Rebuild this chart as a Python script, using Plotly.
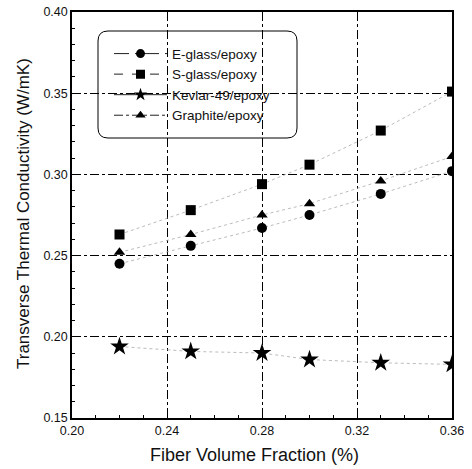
import plotly.graph_objects as go

fiber_fraction = [0.22, 0.25, 0.28, 0.30, 0.33, 0.36]
e_glass = [0.245, 0.256, 0.267, 0.275, 0.288, 0.302]
s_glass = [0.263, 0.278, 0.294, 0.306, 0.327, 0.351]
kevlar = [0.194, 0.191, 0.190, 0.186, 0.184, 0.183]
graphite = [0.252, 0.263, 0.275, 0.282, 0.296, 0.311]

series = [
    ("E-glass/epoxy", e_glass, "circle", "longdashdot", 10, 9),
    ("S-glass/epoxy", s_glass, "square", "dash", 10, 9),
    ("Kevlar-49/epoxy", kevlar, "star", "solid", 14, 10),
    ("Graphite/epoxy", graphite, "triangle-up", "dashdot", 10, 9),
]

FONT = "Liberation Sans, Arial, sans-serif"
W, H = 472, 469
ML, MR, MT, MB = 72, 20, 12, 51
PW, PH = W - ML - MR, H - MT - MB

fig = go.Figure()
for name, vals, sym, dash, size, lsize in series:
    fig.add_trace(go.Scatter(
        x=fiber_fraction, y=vals, name=name, mode="lines+markers", showlegend=False,
        line=dict(color="#aaa", width=0.8, dash="dot"),
        marker=dict(symbol=sym, size=size, color="black"),
    ))
for name, vals, sym, dash, size, lsize in series:
    fig.add_trace(go.Scatter(
        x=[None], y=[None], name=name, mode="lines+markers",
        line=dict(color="#222", width=1, dash=dash),
        marker=dict(symbol=sym, size=lsize, color="black"),
    ))

px = lambda v: (v - ML) / PW
py = lambda v: (H - MB - v) / PH

# rounded legend frame
L, R, T, B = 98, 297, 31, 138
rx, ry = 10 / PW, 10 / PH
x0, x1, y0, y1 = px(L), px(R), py(B), py(T)
path = (f"M {x0+rx},{y1} L {x1-rx},{y1} Q {x1},{y1} {x1},{y1-ry} "
        f"L {x1},{y0+ry} Q {x1},{y0} {x1-rx},{y0} L {x0+rx},{y0} "
        f"Q {x0},{y0} {x0},{y0+ry} L {x0},{y1-ry} Q {x0},{y1} {x0+rx},{y1} Z")
fig.add_shape(type="path", path=path, xref="paper", yref="paper",
              line=dict(color="black", width=1), fillcolor="white", layer="between")

axis_common = dict(
    showline=True, linecolor="black", linewidth=1.5, mirror=True,
    ticks="inside", ticklen=5, tickcolor="black",
    showgrid=True, gridcolor="black", gridwidth=1, griddash="dashdot",
    zeroline=False, automargin=False, ticklabeloverflow="allow",
    tickfont=dict(family=FONT, size=12.5, color="#111"),
    minor=dict(ticks="inside", ticklen=3, tickcolor="black", showgrid=False),
)

fig.update_layout(
    width=W, height=H,
    margin=dict(l=ML, r=MR, t=MT, b=MB),
    plot_bgcolor="white", paper_bgcolor="white",
    font=dict(family=FONT, color="#111"),
    xaxis=dict(range=[0.20, 0.36], dtick=0.04, tickformat=".2f", **axis_common),
    yaxis=dict(range=[0.15, 0.40], dtick=0.05, tickformat=".2f", **axis_common),
    legend=dict(x=px(L) + 11 / PW, y=py(T) - 0.018, xanchor="left", yanchor="top",
                bgcolor="rgba(0,0,0,0)", borderwidth=0, itemwidth=53,
                font=dict(family=FONT, size=13.5, color="#111"), tracegroupgap=0),
    showlegend=True,
    annotations=[
        dict(text="Fiber Volume Fraction (%)", xref="paper", yref="paper",
             x=px(254), y=py(455), showarrow=False, xanchor="center", yanchor="middle",
             font=dict(family=FONT, size=18, color="#111")),
        dict(text="Transverse Thermal Conductivity (W/mK)", xref="paper", yref="paper",
             x=px(24), y=py(214), textangle=-90, showarrow=False,
             xanchor="center", yanchor="middle",
             font=dict(family=FONT, size=17, color="#111")),
    ],
)

fig.write_html("out.html", config={"displayModeBar": False},
               post_script="document.body.style.margin='0';document.body.style.overflow='hidden';")
